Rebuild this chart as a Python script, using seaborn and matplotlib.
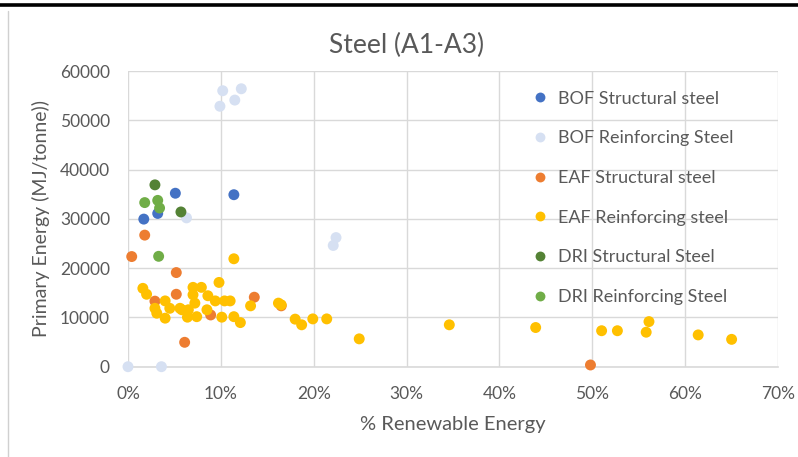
import matplotlib
matplotlib.use("Agg")

import matplotlib.pyplot as plt
import pandas as pd
import seaborn as sns
from matplotlib.lines import Line2D
from matplotlib.ticker import FuncFormatter

# values (x in % renewable, y in MJ/tonne)
bof_struct_x = [1.7, 3.2, 5.1, 11.4]
bof_struct_y = [29950, 31100, 35200, 34900]

bof_reinf_x = [9.9, 10.2, 11.5, 12.2, 6.3, 22.1, 22.4, 0.0, 3.6]
bof_reinf_y = [52850, 56000, 54100, 56400, 30200, 24600, 26200, 0, 0]

eaf_struct_x = [0.4, 1.8, 5.2, 5.2, 2.9, 8.9, 13.6, 16.5, 6.1, 49.8]
eaf_struct_y = [22350, 26700, 19100, 14700, 13300, 10500, 14100, 12350, 4950, 350]

eaf_reinf_x = [11.4, 9.8, 1.6, 2.0, 7.0, 7.9, 7.0, 8.6, 9.4, 10.4,
               11.0, 13.2, 16.2, 16.5, 2.9, 4.0, 3.1, 4.0, 4.5, 5.6,
               5.8, 6.5, 6.4, 7.4, 7.2, 8.5, 10.1, 11.4, 12.1, 18.0,
               18.7, 19.9, 21.4, 24.9, 34.6, 43.9, 51.0, 52.7, 56.1, 55.8,
               61.4, 65.0]
eaf_reinf_y = [21900, 17100, 15900, 14700, 16100, 16100, 14600, 14400, 13350, 13350,
               13350, 12350, 12900, 12550, 11850, 13350, 10850, 9850, 11850, 11850,
               11550, 11550, 10050, 10150, 12900, 11550, 10050, 10150, 8950, 9650,
               8500, 9700, 9700, 5650, 8500, 7950, 7300, 7300, 9150, 7000,
               6450, 5550]

dri_struct_x = [2.9, 5.7]
dri_struct_y = [36900, 31400]

dri_reinf_x = [1.8, 3.2, 3.4, 3.3]
dri_reinf_y = [33300, 33750, 32200, 22400]

series_names = [
    "BOF Structural steel",
    "BOF Reinforcing Steel",
    "EAF Structural steel",
    "EAF Reinforcing steel",
    "DRI Structural Steel",
    "DRI Reinforcing Steel",
]
series_colors = ["#4472C4", "#D6E0F2", "#ED7D31", "#FFC000", "#548235", "#70AD47"]

x_ticks = [0, 10, 20, 30, 40, 50, 60, 70]
y_ticks = [0, 10000, 20000, 30000, 40000, 50000, 60000]

frames = []
for name, xs, ys in zip(
    series_names,
    [bof_struct_x, bof_reinf_x, eaf_struct_x, eaf_reinf_x, dri_struct_x, dri_reinf_x],
    [bof_struct_y, bof_reinf_y, eaf_struct_y, eaf_reinf_y, dri_struct_y, dri_reinf_y],
):
    frames.append(pd.DataFrame({"renewable": xs, "energy": ys, "series": name}))
df = pd.concat(frames, ignore_index=True)

sns.set_theme(style="white")
plt.rcParams["font.family"] = ["Lato", "DejaVu Sans"]
text_grey = "#595959"
grid_grey = "#D9D9D9"

fig = plt.figure(figsize=(7.98, 4.57), dpi=100)
ax = fig.add_axes([0.1604, 0.1976, 0.8146, 0.647])

sns.scatterplot(
    data=df, x="renewable", y="energy", hue="series",
    hue_order=series_names, palette=series_colors,
    s=62, linewidth=0, edgecolor="none", ax=ax, clip_on=False, zorder=3,
)

ax.set_xlim(0, 70)
ax.set_ylim(0, 60000)
ax.set_xticks(x_ticks)
ax.set_yticks(y_ticks)
ax.xaxis.set_major_formatter(FuncFormatter(lambda v, p: f"{v:.0f}%"))
ax.yaxis.set_major_formatter(FuncFormatter(lambda v, p: f"{v:.0f}"))
ax.grid(True, color=grid_grey, linewidth=1.0)
ax.set_axisbelow(True)
ax.tick_params(axis="both", length=0, labelsize=12.5, colors=text_grey)
ax.tick_params(axis="y", pad=13)
ax.tick_params(axis="x", pad=14)
for side in ["top", "right", "left"]:
    ax.spines[side].set_visible(False)
ax.spines["bottom"].set_color(grid_grey)
ax.spines["bottom"].set_linewidth(1.2)

fig.text(0.509, 0.9, "Steel (A1-A3)", fontsize=19, color=text_grey,
         ha="center", va="center")
ax.set_xlabel("% Renewable Energy", fontsize=14.5, color=text_grey, labelpad=10)
ax.set_ylabel("Primary Energy (MJ/tonne))", fontsize=14, color=text_grey, labelpad=7)

handles, labels = ax.get_legend_handles_labels()
ax.legend(
    handles, labels, loc="upper left", bbox_to_anchor=(0.6, 0.976),
    frameon=False, fontsize=13, labelcolor=text_grey,
    labelspacing=1.31, handletextpad=0.5, markerscale=0.9,
    borderaxespad=0.3, handlelength=1.0,
)

# outer frame of the pasted chart
fig.add_artist(Line2D([0, 1], [0.989, 0.989], color="black", linewidth=2.6,
                      transform=fig.transFigure))
fig.add_artist(Line2D([0.0095, 0.0095], [0, 0.975], color="#D0D0D0", linewidth=1,
                      transform=fig.transFigure))

fig.savefig("out.png", dpi=100)
plt.close(fig)
